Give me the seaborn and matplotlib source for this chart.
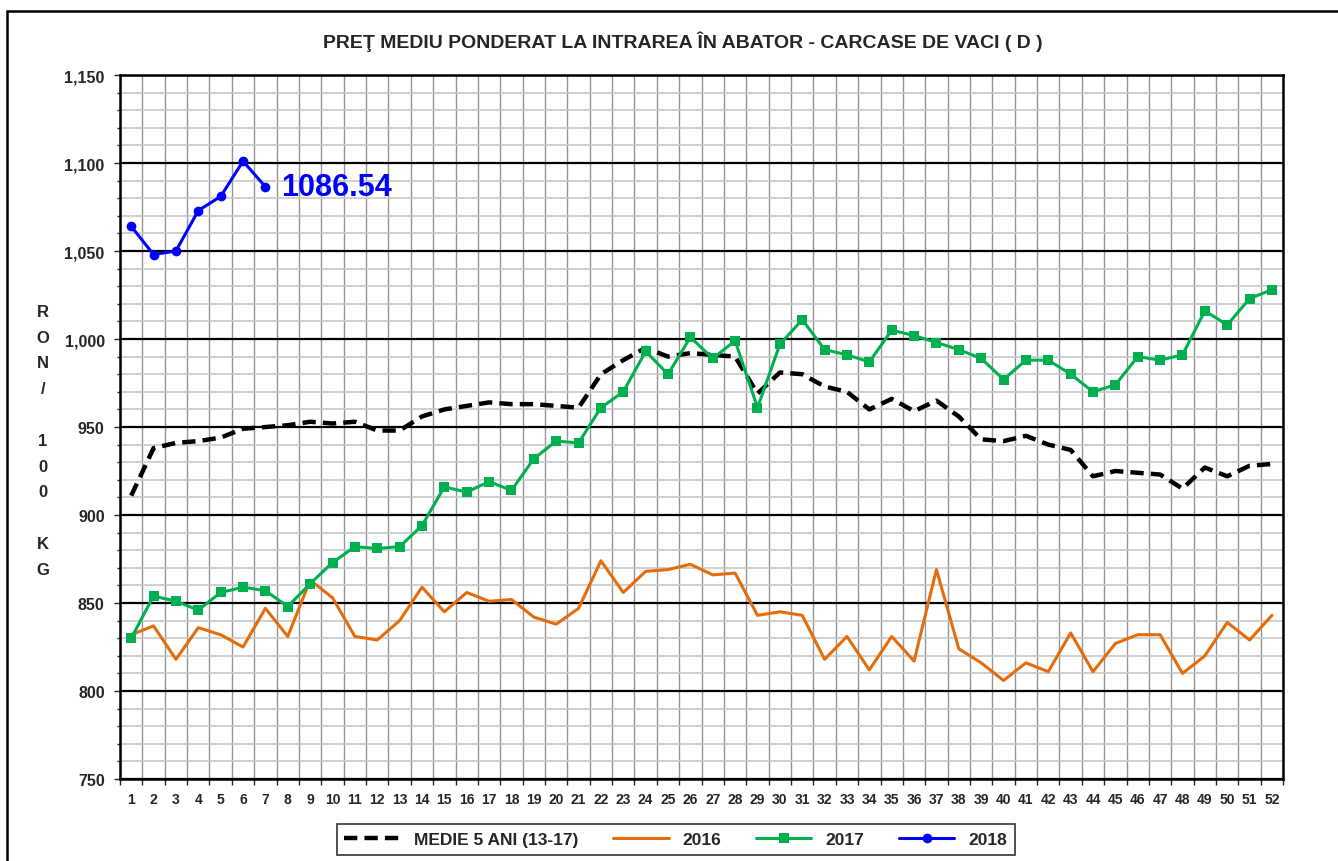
import seaborn as sns
import matplotlib
matplotlib.use("Agg")
import matplotlib.pyplot as plt
import matplotlib.ticker as ticker
from matplotlib.patches import Rectangle
import pandas as pd

weeks = list(range(1, 53))

medie_5_ani = [911, 938, 941, 942, 944, 949, 950, 951, 953, 952, 953, 948, 948,
               956, 960, 962, 964, 963, 963, 962, 961, 980, 988, 995, 990, 992,
               991, 990, 969, 981, 980, 973, 970, 960, 966, 959, 965, 956, 943,
               942, 945, 940, 937, 922, 925, 924, 923, 915, 927, 922, 928, 929]

y2016 = [832, 837, 818, 836, 832, 825, 847, 831, 863, 853, 831, 829, 840,
         859, 845, 856, 851, 852, 842, 838, 847, 874, 856, 868, 869, 872,
         866, 867, 843, 845, 843, 818, 831, 812, 831, 817, 869, 824, 816,
         806, 816, 811, 833, 811, 827, 832, 832, 810, 820, 839, 829, 843]

y2017 = [830, 854, 851, 846, 856, 859, 857, 848, 861, 873, 882, 881, 882,
         894, 916, 913, 919, 914, 932, 942, 941, 961, 970, 993, 980, 1001,
         989, 999, 961, 997, 1011, 994, 991, 987, 1005, 1002, 998, 994, 989,
         977, 988, 988, 980, 970, 974, 990, 988, 991, 1016, 1008, 1023, 1028]

y2018 = [1064, 1048, 1050, 1073, 1081, 1101, 1086.54]

legend_labels = ["MEDIE 5 ANI (13-17)", "2016", "2017", "2018"]
title = "PREŢ MEDIU PONDERAT LA INTRAREA ÎN ABATOR - CARCASE DE VACI ( D )"

sns.set_style("white")
plt.rcParams['font.family'] = ['Liberation Sans', 'DejaVu Sans']
plt.rcParams['font.weight'] = 'bold'

fig = plt.figure(figsize=(13.38, 8.62), dpi=100)
ax = fig.add_axes([0.0897, 0.0951, 0.8693, 0.8167])

df = pd.DataFrame({"Week": weeks, "Medie": medie_5_ani,
                   "2016": y2016, "2017": y2017})
df18 = pd.DataFrame({"Week": weeks[:len(y2018)], "2018": y2018})

sns.lineplot(data=df, x="Week", y="Medie", ax=ax, color="black",
             linewidth=3.2, linestyle=(0, (3.0, 1.6)), label=legend_labels[0])
sns.lineplot(data=df, x="Week", y="2016", ax=ax, color="#E46C0A",
             linewidth=2.2, label=legend_labels[1])
sns.lineplot(data=df, x="Week", y="2017", ax=ax, color="#00B050",
             linewidth=2.2, marker="s", markersize=7, markeredgewidth=0,
             label=legend_labels[2])
sns.lineplot(data=df18, x="Week", y="2018", ax=ax, color="#0000FF",
             linewidth=2.2, marker="o", markersize=7, markeredgewidth=0,
             label=legend_labels[3])

ax.text(weeks[len(y2018) - 1] + 0.7, y2018[-1], f"{y2018[-1]:.2f}",
        color="#0000FF", fontsize=22, fontweight="bold", va="center")

ax.set_xlim(0.5, 52.5)
ax.set_ylim(750, 1150)
ax.set_xticks(weeks)
ax.set_xticklabels([str(w) for w in weeks], fontsize=10, fontweight="bold")
ax.xaxis.set_minor_locator(ticker.FixedLocator([w + 0.5 for w in range(0, 53)]))
ax.yaxis.set_major_locator(ticker.MultipleLocator(50))
ax.yaxis.set_minor_locator(ticker.MultipleLocator(10))
ax.yaxis.set_major_formatter(ticker.StrMethodFormatter("{x:,.0f}"))
for lab in ax.get_yticklabels():
    lab.set_fontweight("bold")
    lab.set_fontsize(11.5)

ax.grid(which="minor", axis="y", color="#C8C8C8", linewidth=1.2)
ax.grid(which="minor", axis="x", color="#959595", linewidth=1.0)
ax.grid(which="major", axis="y", color="black", linewidth=1.6)
ax.grid(which="major", axis="x", visible=False)
ax.set_axisbelow(True)
ax.tick_params(axis="y", which="major", length=4, width=1, left=True, pad=7)
ax.tick_params(axis="y", which="minor", length=2, width=1, left=True)
ax.tick_params(axis="x", which="major", length=0, pad=9)
ax.tick_params(axis="x", which="minor", length=4, width=1, bottom=True)
for s in ax.spines.values():
    s.set_color("black")
    s.set_linewidth(1.8)

ax.set_xlabel("")
ax.set_ylabel("")
fig.text(0.032, 0.488, "R\nO\nN\n/\n\n1\n0\n0\n\nK\nG", ha="center", va="center",
         fontsize=12, fontweight="bold", linespacing=1.9)

fig.text(0.51, 0.951, title, ha="center", va="center", fontsize=14,
         fontweight="bold")

leg = ax.legend(loc="center", bbox_to_anchor=(0.505, 0.025),
                bbox_transform=fig.transFigure, ncol=4, frameon=True,
                fancybox=False, edgecolor="black", fontsize=12.5,
                handlelength=3.2, columnspacing=2.0, borderpad=0.45)
leg.get_frame().set_linewidth(1.2)
for t in leg.get_texts():
    t.set_fontweight("bold")

fig.patches.append(Rectangle((0.005, -0.01), 1.0, 0.996, transform=fig.transFigure,
                             fill=False, edgecolor="black", linewidth=1.8))

fig.savefig("out.png", dpi=100)
